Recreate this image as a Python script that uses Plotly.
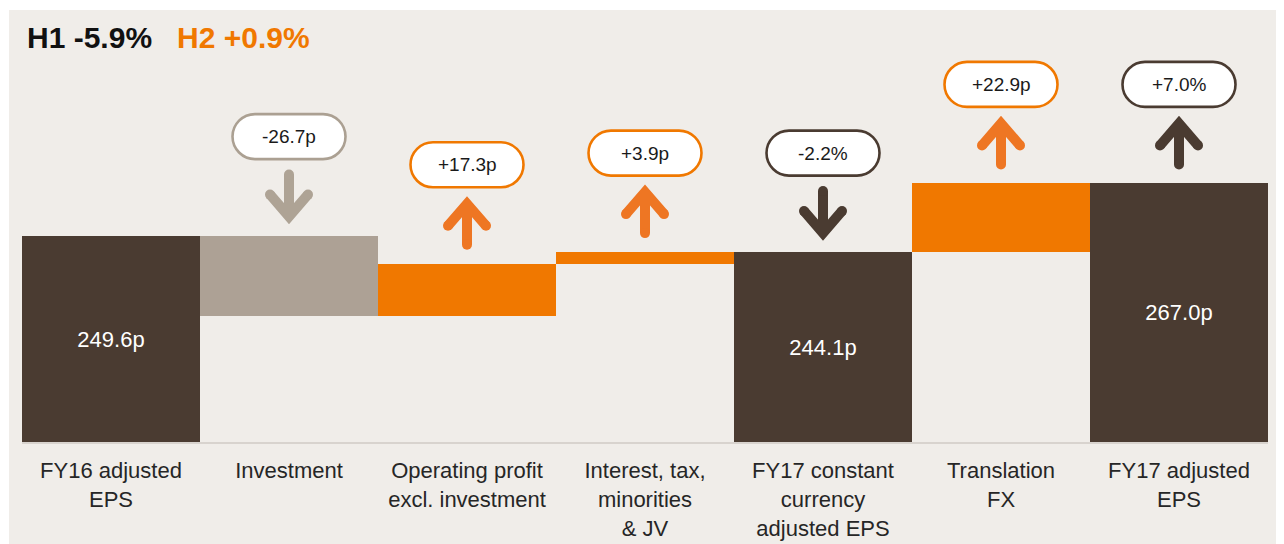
import plotly.graph_objects as go

# ---------------- data ----------------
categories = [
    "FY16 adjusted<br>EPS",
    "Investment",
    "Operating profit<br>excl. investment",
    "Interest, tax,<br>minorities<br>& JV",
    "FY17 constant<br>currency<br>adjusted EPS",
    "Translation<br>FX",
    "FY17 adjusted<br>EPS",
]
measures = ["absolute", "relative", "relative", "relative", "total", "relative", "total"]
values = [249.6, -26.7, 17.3, 3.9, None, 22.9, None]
total_labels = ["249.6p", "", "", "", "244.1p", "", "267.0p"]
bubble_labels = [None, "-26.7p", "+17.3p", "+3.9p", "-2.2%", "+22.9p", "+7.0%"]
bubble_dirs = [None, "down", "up", "up", "down", "up", "up"]
headline_parts = ["H1 -5.9%", "H2 +0.9%"]

# ---------------- style ----------------
DARK = "#4a3b31"
ORANGE = "#f07800"
ORANGE_ARROW = "#ee7623"
GREY = "#ada195"
PANEL = "#f0ede9"
FONT = "Liberation Sans, Arial, sans-serif"
Y_FLOOR = 180.8      # broken axis floor
Y_TOP = 324.8

OFF = 8  # page body margin
W, H = 1284 - OFF, 544 - OFF
ML, MR, MT, MB = 14, 16, 2, 102
PW, PH = W - ML - MR, H - MT - MB


def px_x(p):
    return (p - OFF - ML) / PW


def px_y(p):
    return (H - MB - (p - OFF)) / PH


# ---------------- compute waterfall geometry ----------------
bases, heights, colors, anchors = [], [], [], []
running = 0.0
for m, v in zip(measures, values):
    if m == "absolute":
        running = v
        bases.append(Y_FLOOR); heights.append(v - Y_FLOOR)
        colors.append(DARK); anchors.append(v)
    elif m == "relative":
        start, end = running, running + v
        running = end
        bases.append(min(start, end)); heights.append(abs(v))
        colors.append(ORANGE if v >= 0 else GREY)
        anchors.append(max(start, end))
    else:
        bases.append(Y_FLOOR); heights.append(running - Y_FLOOR)
        colors.append(DARK); anchors.append(running)

fig = go.Figure()
fig.add_trace(go.Bar(
    x=categories, y=heights, base=bases,
    marker=dict(color=colors, line=dict(width=0)),
    text=total_labels, textposition="inside", insidetextanchor="middle",
    textfont=dict(color="white", size=22, family=FONT),
    hoverinfo="skip", width=1.0,
))

shapes = []
annotations = []

# panel background
shapes.append(dict(type="rect", xref="paper", yref="paper",
                   x0=px_x(9), x1=px_x(1284 + 4), y0=px_y(544 + 4), y1=px_y(10),
                   fillcolor=PANEL, line=dict(width=0), layer="below"))


def pill_path(cy, w=56.5, h=22.5):
    r = h
    a = w - r
    c = 0.5523 * r
    return (f"M {-a},{cy + h} L {a},{cy + h} "
            f"C {a + c},{cy + h} {w},{cy + c} {w},{cy} "
            f"C {w},{cy - c} {a + c},{cy - h} {a},{cy - h} "
            f"L {-a},{cy - h} "
            f"C {-a - c},{cy - h} {-w},{cy - c} {-w},{cy} "
            f"C {-w},{cy + c} {-a - c},{cy + h} {-a},{cy + h} Z")


PILL_DY = 99
for i, lab in enumerate(bubble_labels):
    if lab is None:
        continue
    d = bubble_dirs[i]
    if colors[i] == DARK:
        border, arrow_col = DARK, DARK
    elif colors[i] == GREY:
        border, arrow_col = "#aba092", "#aea395"
    else:
        border, arrow_col = ORANGE, ORANGE_ARROW
    ya = anchors[i]
    common = dict(xref="x", yref="y", xsizemode="pixel", ysizemode="pixel",
                  xanchor=i, yanchor=ya)
    shapes.append(dict(type="path", path=pill_path(PILL_DY),
                       fillcolor="white", line=dict(color=border, width=2.6),
                       **common))
    annotations.append(dict(x=i, y=ya, xref="x", yref="y", yshift=PILL_DY,
                            text=lab, showarrow=False,
                            font=dict(size=19, color="#1a1a1a", family=FONT)))
    # arrow
    if d == "up":
        apex, tail, arm = 60, 19, 38
    else:
        apex, tail, arm = 19, 61, 41
    shapes.append(dict(type="path",
                       path=f"M 0,{tail} L 0,{apex} M -19,{arm} L 0,{apex} L 19,{arm}",
                       line=dict(color=arrow_col, width=10), **common))
    for (cx, cy) in [(0, tail), (-19, arm), (19, arm)]:
        shapes.append(dict(type="circle", x0=cx - 5, x1=cx + 5, y0=cy - 5, y1=cy + 5,
                           fillcolor=arrow_col, line=dict(width=0), **common))

# headline
annotations.append(dict(xref="paper", yref="paper", x=px_x(25), y=px_y(38),
                        xanchor="left", yanchor="middle", showarrow=False,
                        text=f"<b>{headline_parts[0]}</b>",
                        font=dict(size=30, color="#111111", family=FONT)))
annotations.append(dict(xref="paper", yref="paper", x=px_x(175), y=px_y(38),
                        xanchor="left", yanchor="middle", showarrow=False,
                        text=f"<b>{headline_parts[1]}</b>",
                        font=dict(size=30, color=ORANGE, family=FONT)))

fig.update_layout(
    width=W, height=H,
    margin=dict(l=ML, r=MR, t=MT, b=MB, pad=0),
    paper_bgcolor="white", plot_bgcolor="rgba(0,0,0,0)",
    bargap=0, showlegend=False,
    shapes=shapes, annotations=annotations,
    font=dict(family=FONT),
    xaxis=dict(type="category", showgrid=False, zeroline=False,
               showline=True, linecolor="#d8d3ce", linewidth=2,
               ticks="", ticklabelstandoff=8,
               tickfont=dict(size=22, color="#262626", family=FONT),
               fixedrange=True),
    yaxis=dict(range=[Y_FLOOR, Y_TOP], visible=False, fixedrange=True),
)

fig.write_html("out.html")
